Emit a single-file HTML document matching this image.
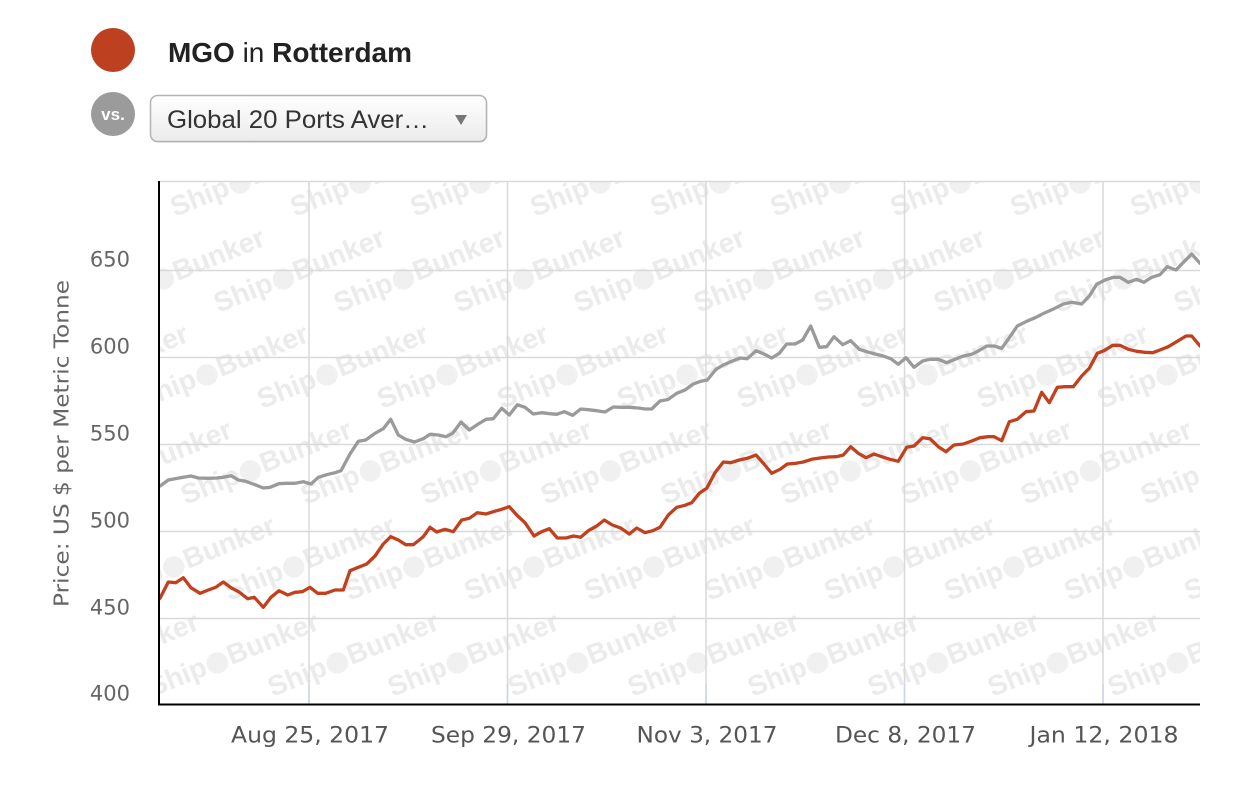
<!DOCTYPE html>
<html>
<head>
<meta charset="utf-8">
<style>
html,body{margin:0;padding:0;background:#fff;}
svg{display:block;}
</style>
</head>
<body>
<svg width="1242" height="792" viewBox="0 0 1242 792" xmlns="http://www.w3.org/2000/svg">
  <defs>
    <clipPath id="plot"><rect x="160" y="182" width="1040" height="522"/></clipPath>
    <linearGradient id="dd" x1="0" y1="0" x2="0" y2="1">
      <stop offset="0" stop-color="#ffffff"/>
      <stop offset="1" stop-color="#ebebeb"/>
    </linearGradient>
  </defs>

  <!-- Header -->
  <circle cx="113" cy="50" r="22" fill="#bd4020"/>
  <text x="168" y="62" font-family="Liberation Sans, Arial, sans-serif" font-size="27.5" fill="#222" textLength="244" lengthAdjust="spacingAndGlyphs"><tspan font-weight="bold">MGO</tspan> in <tspan font-weight="bold">Rotterdam</tspan></text>

  <circle cx="113" cy="114" r="22" fill="#9b9b9b"/>
  <text x="113" y="120" text-anchor="middle" font-family="Liberation Sans, Arial, sans-serif" font-size="17" font-weight="bold" fill="#fff">vs.</text>

  <rect x="151.5" y="97" width="336" height="46" rx="7" ry="7" fill="#000" opacity="0.08"/>
  <rect x="150.5" y="95.5" width="336" height="46" rx="7" ry="7" fill="url(#dd)" stroke="#b3b3b3" stroke-width="1.5"/>
  <text x="167" y="128" font-family="Liberation Sans, Arial, sans-serif" font-size="25" fill="#333" textLength="262" lengthAdjust="spacingAndGlyphs">Global 20 Ports Aver…</text>
  <polygon points="455,115 467,115 461,125" fill="#777"/>

  <!-- Watermark -->
  <g clip-path="url(#plot)" font-family="Liberation Sans, Arial, sans-serif" font-size="28" font-weight="bold" fill="#ebebeb">
    <!-- row 0 -->
    <text transform="translate(55,217) rotate(-22)">Ship<tspan font-family="DejaVu Sans, sans-serif" fill="#f0f0f0">●</tspan>Bunker</text>
    <text transform="translate(175,217) rotate(-22)">Ship<tspan font-family="DejaVu Sans, sans-serif" fill="#f0f0f0">●</tspan>Bunker</text>
    <text transform="translate(295,217) rotate(-22)">Ship<tspan font-family="DejaVu Sans, sans-serif" fill="#f0f0f0">●</tspan>Bunker</text>
    <text transform="translate(415,217) rotate(-22)">Ship<tspan font-family="DejaVu Sans, sans-serif" fill="#f0f0f0">●</tspan>Bunker</text>
    <text transform="translate(535,217) rotate(-22)">Ship<tspan font-family="DejaVu Sans, sans-serif" fill="#f0f0f0">●</tspan>Bunker</text>
    <text transform="translate(655,217) rotate(-22)">Ship<tspan font-family="DejaVu Sans, sans-serif" fill="#f0f0f0">●</tspan>Bunker</text>
    <text transform="translate(775,217) rotate(-22)">Ship<tspan font-family="DejaVu Sans, sans-serif" fill="#f0f0f0">●</tspan>Bunker</text>
    <text transform="translate(895,217) rotate(-22)">Ship<tspan font-family="DejaVu Sans, sans-serif" fill="#f0f0f0">●</tspan>Bunker</text>
    <text transform="translate(1015,217) rotate(-22)">Ship<tspan font-family="DejaVu Sans, sans-serif" fill="#f0f0f0">●</tspan>Bunker</text>
    <text transform="translate(1135,217) rotate(-22)">Ship<tspan font-family="DejaVu Sans, sans-serif" fill="#f0f0f0">●</tspan>Bunker</text>
    <!-- row 1 -->
    <text transform="translate(98.5,313) rotate(-22)">Ship<tspan font-family="DejaVu Sans, sans-serif" fill="#f0f0f0">●</tspan>Bunker</text>
    <text transform="translate(218.5,313) rotate(-22)">Ship<tspan font-family="DejaVu Sans, sans-serif" fill="#f0f0f0">●</tspan>Bunker</text>
    <text transform="translate(338.5,313) rotate(-22)">Ship<tspan font-family="DejaVu Sans, sans-serif" fill="#f0f0f0">●</tspan>Bunker</text>
    <text transform="translate(458.5,313) rotate(-22)">Ship<tspan font-family="DejaVu Sans, sans-serif" fill="#f0f0f0">●</tspan>Bunker</text>
    <text transform="translate(578.5,313) rotate(-22)">Ship<tspan font-family="DejaVu Sans, sans-serif" fill="#f0f0f0">●</tspan>Bunker</text>
    <text transform="translate(698.5,313) rotate(-22)">Ship<tspan font-family="DejaVu Sans, sans-serif" fill="#f0f0f0">●</tspan>Bunker</text>
    <text transform="translate(818.5,313) rotate(-22)">Ship<tspan font-family="DejaVu Sans, sans-serif" fill="#f0f0f0">●</tspan>Bunker</text>
    <text transform="translate(938.5,313) rotate(-22)">Ship<tspan font-family="DejaVu Sans, sans-serif" fill="#f0f0f0">●</tspan>Bunker</text>
    <text transform="translate(1058.5,313) rotate(-22)">Ship<tspan font-family="DejaVu Sans, sans-serif" fill="#f0f0f0">●</tspan>Bunker</text>
    <text transform="translate(1178.5,313) rotate(-22)">Ship<tspan font-family="DejaVu Sans, sans-serif" fill="#f0f0f0">●</tspan>Bunker</text>
    <!-- row 2 -->
    <text transform="translate(22,409) rotate(-22)">Ship<tspan font-family="DejaVu Sans, sans-serif" fill="#f0f0f0">●</tspan>Bunker</text>
    <text transform="translate(142,409) rotate(-22)">Ship<tspan font-family="DejaVu Sans, sans-serif" fill="#f0f0f0">●</tspan>Bunker</text>
    <text transform="translate(262,409) rotate(-22)">Ship<tspan font-family="DejaVu Sans, sans-serif" fill="#f0f0f0">●</tspan>Bunker</text>
    <text transform="translate(382,409) rotate(-22)">Ship<tspan font-family="DejaVu Sans, sans-serif" fill="#f0f0f0">●</tspan>Bunker</text>
    <text transform="translate(502,409) rotate(-22)">Ship<tspan font-family="DejaVu Sans, sans-serif" fill="#f0f0f0">●</tspan>Bunker</text>
    <text transform="translate(622,409) rotate(-22)">Ship<tspan font-family="DejaVu Sans, sans-serif" fill="#f0f0f0">●</tspan>Bunker</text>
    <text transform="translate(742,409) rotate(-22)">Ship<tspan font-family="DejaVu Sans, sans-serif" fill="#f0f0f0">●</tspan>Bunker</text>
    <text transform="translate(862,409) rotate(-22)">Ship<tspan font-family="DejaVu Sans, sans-serif" fill="#f0f0f0">●</tspan>Bunker</text>
    <text transform="translate(982,409) rotate(-22)">Ship<tspan font-family="DejaVu Sans, sans-serif" fill="#f0f0f0">●</tspan>Bunker</text>
    <text transform="translate(1102,409) rotate(-22)">Ship<tspan font-family="DejaVu Sans, sans-serif" fill="#f0f0f0">●</tspan>Bunker</text>
    <!-- row 3 -->
    <text transform="translate(65.5,505) rotate(-22)">Ship<tspan font-family="DejaVu Sans, sans-serif" fill="#f0f0f0">●</tspan>Bunker</text>
    <text transform="translate(185.5,505) rotate(-22)">Ship<tspan font-family="DejaVu Sans, sans-serif" fill="#f0f0f0">●</tspan>Bunker</text>
    <text transform="translate(305.5,505) rotate(-22)">Ship<tspan font-family="DejaVu Sans, sans-serif" fill="#f0f0f0">●</tspan>Bunker</text>
    <text transform="translate(425.5,505) rotate(-22)">Ship<tspan font-family="DejaVu Sans, sans-serif" fill="#f0f0f0">●</tspan>Bunker</text>
    <text transform="translate(545.5,505) rotate(-22)">Ship<tspan font-family="DejaVu Sans, sans-serif" fill="#f0f0f0">●</tspan>Bunker</text>
    <text transform="translate(665.5,505) rotate(-22)">Ship<tspan font-family="DejaVu Sans, sans-serif" fill="#f0f0f0">●</tspan>Bunker</text>
    <text transform="translate(785.5,505) rotate(-22)">Ship<tspan font-family="DejaVu Sans, sans-serif" fill="#f0f0f0">●</tspan>Bunker</text>
    <text transform="translate(905.5,505) rotate(-22)">Ship<tspan font-family="DejaVu Sans, sans-serif" fill="#f0f0f0">●</tspan>Bunker</text>
    <text transform="translate(1025.5,505) rotate(-22)">Ship<tspan font-family="DejaVu Sans, sans-serif" fill="#f0f0f0">●</tspan>Bunker</text>
    <text transform="translate(1145.5,505) rotate(-22)">Ship<tspan font-family="DejaVu Sans, sans-serif" fill="#f0f0f0">●</tspan>Bunker</text>
    <!-- row 4 -->
    <text transform="translate(109,601) rotate(-22)">Ship<tspan font-family="DejaVu Sans, sans-serif" fill="#f0f0f0">●</tspan>Bunker</text>
    <text transform="translate(229,601) rotate(-22)">Ship<tspan font-family="DejaVu Sans, sans-serif" fill="#f0f0f0">●</tspan>Bunker</text>
    <text transform="translate(349,601) rotate(-22)">Ship<tspan font-family="DejaVu Sans, sans-serif" fill="#f0f0f0">●</tspan>Bunker</text>
    <text transform="translate(469,601) rotate(-22)">Ship<tspan font-family="DejaVu Sans, sans-serif" fill="#f0f0f0">●</tspan>Bunker</text>
    <text transform="translate(589,601) rotate(-22)">Ship<tspan font-family="DejaVu Sans, sans-serif" fill="#f0f0f0">●</tspan>Bunker</text>
    <text transform="translate(709,601) rotate(-22)">Ship<tspan font-family="DejaVu Sans, sans-serif" fill="#f0f0f0">●</tspan>Bunker</text>
    <text transform="translate(829,601) rotate(-22)">Ship<tspan font-family="DejaVu Sans, sans-serif" fill="#f0f0f0">●</tspan>Bunker</text>
    <text transform="translate(949,601) rotate(-22)">Ship<tspan font-family="DejaVu Sans, sans-serif" fill="#f0f0f0">●</tspan>Bunker</text>
    <text transform="translate(1069,601) rotate(-22)">Ship<tspan font-family="DejaVu Sans, sans-serif" fill="#f0f0f0">●</tspan>Bunker</text>
    <text transform="translate(1189,601) rotate(-22)">Ship<tspan font-family="DejaVu Sans, sans-serif" fill="#f0f0f0">●</tspan>Bunker</text>
    <!-- row 5 -->
    <text transform="translate(32.5,697) rotate(-22)">Ship<tspan font-family="DejaVu Sans, sans-serif" fill="#f0f0f0">●</tspan>Bunker</text>
    <text transform="translate(152.5,697) rotate(-22)">Ship<tspan font-family="DejaVu Sans, sans-serif" fill="#f0f0f0">●</tspan>Bunker</text>
    <text transform="translate(272.5,697) rotate(-22)">Ship<tspan font-family="DejaVu Sans, sans-serif" fill="#f0f0f0">●</tspan>Bunker</text>
    <text transform="translate(392.5,697) rotate(-22)">Ship<tspan font-family="DejaVu Sans, sans-serif" fill="#f0f0f0">●</tspan>Bunker</text>
    <text transform="translate(512.5,697) rotate(-22)">Ship<tspan font-family="DejaVu Sans, sans-serif" fill="#f0f0f0">●</tspan>Bunker</text>
    <text transform="translate(632.5,697) rotate(-22)">Ship<tspan font-family="DejaVu Sans, sans-serif" fill="#f0f0f0">●</tspan>Bunker</text>
    <text transform="translate(752.5,697) rotate(-22)">Ship<tspan font-family="DejaVu Sans, sans-serif" fill="#f0f0f0">●</tspan>Bunker</text>
    <text transform="translate(872.5,697) rotate(-22)">Ship<tspan font-family="DejaVu Sans, sans-serif" fill="#f0f0f0">●</tspan>Bunker</text>
    <text transform="translate(992.5,697) rotate(-22)">Ship<tspan font-family="DejaVu Sans, sans-serif" fill="#f0f0f0">●</tspan>Bunker</text>
    <text transform="translate(1112.5,697) rotate(-22)">Ship<tspan font-family="DejaVu Sans, sans-serif" fill="#f0f0f0">●</tspan>Bunker</text>
    <!-- row 6 -->
    <text transform="translate(76,793) rotate(-22)">Ship<tspan font-family="DejaVu Sans, sans-serif" fill="#f0f0f0">●</tspan>Bunker</text>
    <text transform="translate(196,793) rotate(-22)">Ship<tspan font-family="DejaVu Sans, sans-serif" fill="#f0f0f0">●</tspan>Bunker</text>
    <text transform="translate(316,793) rotate(-22)">Ship<tspan font-family="DejaVu Sans, sans-serif" fill="#f0f0f0">●</tspan>Bunker</text>
    <text transform="translate(436,793) rotate(-22)">Ship<tspan font-family="DejaVu Sans, sans-serif" fill="#f0f0f0">●</tspan>Bunker</text>
    <text transform="translate(556,793) rotate(-22)">Ship<tspan font-family="DejaVu Sans, sans-serif" fill="#f0f0f0">●</tspan>Bunker</text>
    <text transform="translate(676,793) rotate(-22)">Ship<tspan font-family="DejaVu Sans, sans-serif" fill="#f0f0f0">●</tspan>Bunker</text>
    <text transform="translate(796,793) rotate(-22)">Ship<tspan font-family="DejaVu Sans, sans-serif" fill="#f0f0f0">●</tspan>Bunker</text>
    <text transform="translate(916,793) rotate(-22)">Ship<tspan font-family="DejaVu Sans, sans-serif" fill="#f0f0f0">●</tspan>Bunker</text>
    <text transform="translate(1036,793) rotate(-22)">Ship<tspan font-family="DejaVu Sans, sans-serif" fill="#f0f0f0">●</tspan>Bunker</text>
    <text transform="translate(1156,793) rotate(-22)">Ship<tspan font-family="DejaVu Sans, sans-serif" fill="#f0f0f0">●</tspan>Bunker</text>
  </g>

  <!-- Grid -->
  <g stroke="#d9d9d9" stroke-width="1.5" fill="none">
    <line x1="159" y1="181.5" x2="1200" y2="181.5"/>
    <line x1="159" y1="270.5" x2="1200" y2="270.5"/>
    <line x1="159" y1="357.5" x2="1200" y2="357.5"/>
    <line x1="159" y1="444.5" x2="1200" y2="444.5"/>
    <line x1="159" y1="531.5" x2="1200" y2="531.5"/>
    <line x1="159" y1="618.5" x2="1200" y2="618.5"/>
    <line x1="309" y1="181" x2="309" y2="704"/>
    <line x1="507.5" y1="181" x2="507.5" y2="704"/>
    <line x1="706" y1="181" x2="706" y2="704"/>
    <line x1="904.5" y1="181" x2="904.5" y2="704"/>
    <line x1="1103" y1="181" x2="1103" y2="704"/>
  </g>
  <g stroke="#c8d6ea" stroke-width="1.5">
    <line x1="309" y1="684" x2="309" y2="704"/>
    <line x1="507.5" y1="684" x2="507.5" y2="704"/>
    <line x1="706" y1="684" x2="706" y2="704"/>
    <line x1="904.5" y1="684" x2="904.5" y2="704"/>
    <line x1="1103" y1="684" x2="1103" y2="704"/>
  </g>

  <!-- Series -->
  <g clip-path="url(#plot)" fill="none" stroke-width="3.3" stroke-linejoin="round" stroke-linecap="round">
    <polyline stroke="#9a9a9a" points="160,486 168.3,480 175,478.7 183.3,477.3 191,476 198.3,478 208.3,478.3 216.7,478 223.3,477.3 231,475.7 238.3,480 245.7,481.3 255,484.7 263.3,488 270,487.3 279,483.7 286.7,483.3 295,483.3 303.3,481.7 311,484 318.3,477.3 326.7,474.7 335,472.7 341,470.7 350,454 358.3,441.3 365.7,440 375,433.3 383.3,428.7 390.7,419.3 398.3,435 405.7,439.3 414.3,442 423.3,438.7 430,434.3 438.3,435 446,436.7 452.7,433.3 461,422 469.3,430 478.3,424 486,419.3 493.3,418.7 501.7,408.3 509.3,415 517.3,404.7 525,407.3 533.3,414 541.7,412.7 550,413.7 556.7,414.3 564.3,411.7 572.7,415.3 580.7,409 588.3,409.7 596.7,410.7 605,412 613.3,407 621.7,407.3 630,407.3 638.3,408 645,409 651.7,409 660,401 668,399.5 676.7,393.3 685,390 693.3,384 700.7,381.3 707.3,380 716,369.3 723.3,365 731.7,361.3 740,358 747.3,358.7 756,350.7 764,354 771.7,358 779.3,353.3 786.7,344 795,344 802.7,340 810.7,326 819.3,347.3 826.7,346.7 834,336.7 842.7,344.7 850.7,340.7 859.3,349.3 866.7,351.7 875,354 883.3,356 890.7,358.7 898.3,364.3 906,357.7 914,367.3 922.7,361 930,359.3 938.3,359.3 946.7,362.7 955,359.3 963.3,356 971.7,354.3 978.3,351 986.7,346 994,346 1001.7,348.3 1010,336.7 1017.3,326 1026.7,321.3 1036,317.3 1045,312.7 1054,308.7 1063.3,304 1071.7,302.3 1081.7,304 1089.3,296 1096.7,284.3 1105,280 1113.3,277.3 1120,277.3 1128.3,282.3 1136.7,279.3 1144,282.3 1151.7,277.3 1160,274.7 1167.3,266.7 1176,270 1184,261.7 1191.7,254 1200,263.3"/>
    <polyline stroke="#c1401e" points="160,598.3 168.3,582 175.7,582.7 183.3,577.7 191,587.7 200,593.3 208.3,590 215.7,587.3 223.3,582 231,587.7 239,592 247.7,598.7 254.3,597.3 263.3,607.3 271,597.3 279,590.7 287.7,595 295,592.3 302.3,591.7 310,587.3 317.7,593.3 325.7,593.3 335,590 343.3,590 350,570.7 358.3,567.3 366.7,564 375,556 383.3,544 390.7,536.7 398.3,540 405.7,544.7 413.3,544.7 418,541 423.3,536.7 430,527.3 436.7,532 445,529.3 453.3,531.7 461.7,520 469.3,518.3 477.3,512.7 486,514 493.3,511.7 501.7,509.3 509.3,506.7 516.7,515 525,522.7 534,536 541.7,531.7 549.3,528.7 557.3,538 566,538 573.3,536 580.7,537.3 588.3,530.7 596.7,526 604.3,520 612.3,525 620.7,528 629.3,534 636.7,528 645,532.7 652.7,530.7 660,527.3 668.3,515 676.7,507.3 685,505.3 691.7,502.7 699.3,493.3 706.7,488.3 715,472.7 723.3,462 730.7,462.7 739.3,460 747.3,458.3 756,455 764,464 771.7,473.3 780,469.3 787.3,464 796,463.3 803.3,462 811.7,459.3 820,458 828.3,457 836.7,456.7 843.3,455 850.7,446.7 858.3,453.3 866,457.7 874,454 881.7,456.7 890,459.3 898.3,461.3 906.7,447.3 914,446 922.7,437.7 930,438.7 938.3,446.7 946,451.7 954,445 963.3,444 971.7,441 980,437.7 988.3,436.7 994,436.7 1001.7,440.7 1009.3,421.7 1017.3,419.3 1026,411.7 1034,411 1041.7,392.3 1049.3,402.7 1057.3,387.3 1065,386.7 1073.3,386.7 1081.7,376 1089.3,368.3 1097.3,353.3 1104,350.7 1112.7,345.3 1120,345.3 1128.3,349.3 1136.7,351.3 1145,352.3 1152.7,352.7 1160,350 1168.3,346.7 1178.3,340.7 1186,336 1191.7,336 1200,346"/>
  </g>

  <!-- Axes -->
  <line x1="159" y1="181" x2="159" y2="705" stroke="#000" stroke-width="2"/>
  <line x1="158" y1="704.5" x2="1200" y2="704.5" stroke="#000" stroke-width="2"/>

  <!-- Y labels -->
  <g font-family="DejaVu Sans, Liberation Sans, sans-serif" font-size="21" fill="#666" text-anchor="end">
    <text x="130" y="266.5">650</text>
    <text x="130" y="353.5">600</text>
    <text x="130" y="440.5">550</text>
    <text x="130" y="527.5">500</text>
    <text x="130" y="614.5">450</text>
    <text x="130" y="700.5">400</text>
  </g>
  <text transform="translate(68.5,443.5) rotate(-90)" text-anchor="middle" font-family="DejaVu Sans, Liberation Sans, sans-serif" font-size="20.5" fill="#666" textLength="327" lengthAdjust="spacingAndGlyphs">Price: US $ per Metric Tonne</text>

  <!-- X labels -->
  <g font-family="DejaVu Sans, Liberation Sans, sans-serif" font-size="22.5" fill="#555" text-anchor="middle">
    <text x="310" y="742.5" textLength="158" lengthAdjust="spacingAndGlyphs">Aug 25, 2017</text>
    <text x="508.5" y="742.5" textLength="155" lengthAdjust="spacingAndGlyphs">Sep 29, 2017</text>
    <text x="707" y="742.5" textLength="141" lengthAdjust="spacingAndGlyphs">Nov 3, 2017</text>
    <text x="905.5" y="742.5" textLength="141" lengthAdjust="spacingAndGlyphs">Dec 8, 2017</text>
    <text x="1104" y="742.5" textLength="149" lengthAdjust="spacingAndGlyphs">Jan 12, 2018</text>
  </g>
</svg>
</body>
</html>
